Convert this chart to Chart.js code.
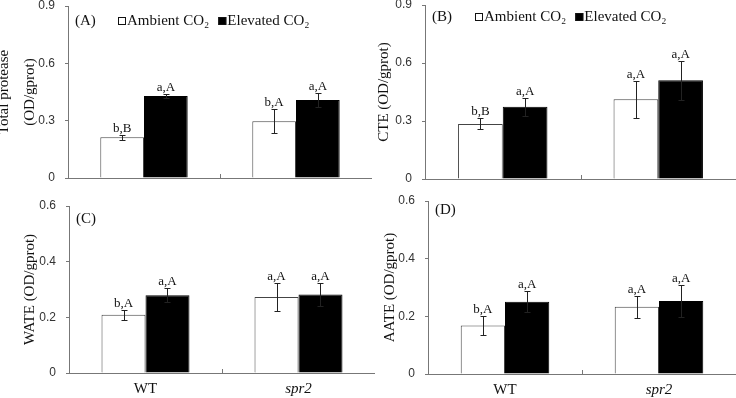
<!DOCTYPE html>
<html>
<head>
<meta charset="utf-8">
<script src="https://cdn.jsdelivr.net/npm/chart.js@4.4.0/dist/chart.umd.min.js"></script>
<style>
  html, body { margin: 0; padding: 0; background: #fff; }
  body { width: 736px; height: 398px; position: relative; overflow: hidden; }
  .panel { position: absolute; }
</style>
</head>
<body>
<div class="panel" style="left:-10px;top:0;width:382px;height:200px"><canvas id="chartA"></canvas></div>
<div class="panel" style="left:372px;top:0;width:364px;height:200px"><canvas id="chartB"></canvas></div>
<div class="panel" style="left:0;top:196px;width:375px;height:202px"><canvas id="chartC"></canvas></div>
<div class="panel" style="left:372px;top:192px;width:364px;height:206px"><canvas id="chartD"></canvas></div>
<script>
const categories = ['WT', 'spr2'];
const seriesNames = ['Ambient CO₂', 'Elevated CO₂'];

// (A) total protease
const totalAmbient = [0.213, 0.297];
const totalAmbientErr = [0.012, 0.062];
const totalElevated = [0.429, 0.408];
const totalElevatedErr = [0.010, 0.035];
const totalAmbientSig = ['b,B', 'b,A'];
const totalElevatedSig = ['a,A', 'a,A'];
const totalTicks = [0, 0.3, 0.6, 0.9];

// (B) CTE
const cteAmbient = [0.285, 0.412];
const cteAmbientErr = [0.028, 0.095];
const cteElevated = [0.374, 0.511];
const cteElevatedErr = [0.047, 0.100];
const cteAmbientSig = ['b,B', 'a,A'];
const cteElevatedSig = ['a,A', 'a,A'];
const cteTicks = [0, 0.3, 0.6, 0.9];

// (C) WATE
const wateAmbient = [0.209, 0.273];
const wateAmbientErr = [0.018, 0.052];
const wateElevated = [0.279, 0.282];
const wateElevatedErr = [0.025, 0.043];
const wateAmbientSig = ['b,A', 'a,A'];
const wateElevatedSig = ['a,A', 'a,A'];
const wateTicks = [0, 0.2, 0.4, 0.6];

// (D) AATE
const aateAmbient = [0.168, 0.233];
const aateAmbientErr = [0.033, 0.039];
const aateElevated = [0.251, 0.253];
const aateElevatedErr = [0.036, 0.054];
const aateAmbientSig = ['b,A', 'a,A'];
const aateElevatedSig = ['a,A', 'a,A'];
const aateTicks = [0, 0.2, 0.4, 0.6];

const SERIF = '"Liberation Serif", "Times New Roman", serif';

// error bars, letters, panel tag, legend
const panelDecor = {
  id: 'panelDecor',
  afterDatasetsDraw(chart, args, opts) {
    const { ctx, chartArea, scales: { x, y } } = chart;
    ctx.save();
    chart.data.datasets.forEach((ds, i) => {
      const meta = chart.getDatasetMeta(i);
      meta.data.forEach((bar, j) => {
        const v = ds.data[j], e = ds.errors[j];
        const bx = Math.round(bar.x) + 0.5;
        const top = Math.round(y.getPixelForValue(v + e)) + 0.5;
        const bot = Math.round(y.getPixelForValue(v - e)) + 0.5;
        ctx.strokeStyle = '#222';
        ctx.lineWidth = 1;
        ctx.beginPath();
        ctx.moveTo(bx, top); ctx.lineTo(bx, bot);
        ctx.moveTo(bx - 3, top); ctx.lineTo(bx + 3, top);
        ctx.moveTo(bx - 3, bot); ctx.lineTo(bx + 3, bot);
        ctx.stroke();
        ctx.fillStyle = '#111';
        ctx.font = '13px ' + SERIF;
        ctx.textAlign = 'center';
        ctx.textBaseline = 'alphabetic';
        ctx.fillText(ds.sig[j], bar.x, top - 4);
      });
    });

    // small inner tick between the two groups
    const mid = Math.round((x.getPixelForValue(0) + x.getPixelForValue(1)) / 2) + 0.5;
    ctx.strokeStyle = '#777';
    ctx.beginPath();
    ctx.moveTo(mid, chartArea.bottom);
    ctx.lineTo(mid, chartArea.bottom - 4);
    ctx.stroke();

    // panel tag
    ctx.fillStyle = '#111';
    ctx.font = '15px ' + SERIF;
    ctx.textAlign = 'left';
    ctx.textBaseline = 'middle';
    ctx.fillText(opts.tag, chartArea.left + 7, chartArea.top + opts.tagDy);

    if (opts.legend) {
      let lx = chartArea.left + opts.legendDx;
      const ly = chartArea.top + opts.tagDy;
      chart.data.datasets.forEach((ds, i) => {
        ctx.fillStyle = i === 0 ? '#fff' : '#000';
        ctx.fillRect(lx, ly - 4, 8, 8);
        ctx.strokeStyle = '#111';
        ctx.strokeRect(lx + 0.5, ly - 3.5, 7, 7);
        lx += 9;
        ctx.fillStyle = '#111';
        ctx.fillText(ds.label, lx, ly);
        lx += ctx.measureText(ds.label).width + 9;
      });
    }
    ctx.restore();
  }
};

function makeChart(id, cfg) {
  return new Chart(document.getElementById(id), {
    type: 'bar',
    data: {
      labels: categories,
      datasets: [
        { label: seriesNames[0], data: cfg.ambient, errors: cfg.ambientErr, sig: cfg.ambientSig,
          backgroundColor: '#fff', borderColor: '#444', borderWidth: 1 },
        { label: seriesNames[1], data: cfg.elevated, errors: cfg.elevatedErr, sig: cfg.elevatedSig,
          backgroundColor: '#000', borderColor: '#000', borderWidth: 1 }
      ]
    },
    options: {
      responsive: true,
      maintainAspectRatio: false,
      animation: false,
      devicePixelRatio: 1,
      datasets: { bar: { categoryPercentage: 0.575, barPercentage: 1 } },
      layout: { padding: { top: cfg.padTop, left: 0, right: 0, bottom: 0 } },
      plugins: {
        legend: { display: false },
        tooltip: { enabled: false },
        panelDecor: { tag: cfg.tag, tagDy: cfg.tagDy, legend: cfg.legend, legendDx: 50 }
      },
      scales: {
        x: {
          grid: { display: false, drawTicks: false },
          border: { color: '#777', width: 1 },
          ticks: {
            display: cfg.showX,
            padding: 7,
            color: '#111',
            font: c => ({ family: SERIF, size: 15, style: c.index === 1 ? 'italic' : 'normal' })
          },
          afterFit: s => { s.height = cfg.xHeight; s.paddingLeft = 0; s.paddingRight = 0; }
        },
        y: {
          min: cfg.ticks[0],
          max: cfg.ticks[cfg.ticks.length - 1],
          afterBuildTicks: s => { s.ticks = cfg.ticks.map(v => ({ value: v })); },
          grid: { drawOnChartArea: false, tickLength: 3, color: '#777' },
          border: { color: '#777', width: 1 },
          ticks: {
            padding: 10,
            color: '#333',
            font: { family: '"Liberation Sans", Arial, sans-serif', size: 12 },
            callback: v => +v.toFixed(1)
          },
          title: {
            display: true,
            text: cfg.title,
            color: '#111',
            font: { family: SERIF, size: 15, lineHeight: cfg.titleLH },
            padding: { top: cfg.titlePad, bottom: 0 }
          },
          afterFit: s => { s.width = cfg.yWidth; s.paddingTop = 0; s.paddingBottom = 0; }
        }
      }
    },
    plugins: [panelDecor]
  });
}

makeChart('chartA', {
  ambient: totalAmbient, ambientErr: totalAmbientErr, ambientSig: totalAmbientSig,
  elevated: totalElevated, elevatedErr: totalElevatedErr, elevatedSig: totalElevatedSig,
  ticks: totalTicks, title: ['Total protease', '(OD/gprot)'], titleLH: 1.75, titlePad: 1,
  yWidth: 78, padTop: 6, xHeight: 22, showX: false, tag: '(A)', tagDy: 15, legend: true
});
makeChart('chartB', {
  ambient: cteAmbient, ambientErr: cteAmbientErr, ambientSig: cteAmbientSig,
  elevated: cteElevated, elevatedErr: cteElevatedErr, elevatedSig: cteElevatedSig,
  ticks: cteTicks, title: 'CTE (OD/gprot)', titleLH: 1.2, titlePad: 3,
  yWidth: 53, padTop: 5, xHeight: 21, showX: false, tag: '(B)', tagDy: 12, legend: true
});
makeChart('chartC', {
  ambient: wateAmbient, ambientErr: wateAmbientErr, ambientSig: wateAmbientSig,
  elevated: wateElevated, elevatedErr: wateElevatedErr, elevatedSig: wateElevatedSig,
  ticks: wateTicks, title: 'WATE (OD/gprot)', titleLH: 1.2, titlePad: 21,
  yWidth: 69, padTop: 10, xHeight: 25, showX: true, tag: '(C)', tagDy: 13, legend: false
});
makeChart('chartD', {
  ambient: aateAmbient, ambientErr: aateAmbientErr, ambientSig: aateAmbientSig,
  elevated: aateElevated, elevatedErr: aateElevatedErr, elevatedSig: aateElevatedSig,
  ticks: aateTicks, title: 'AATE (OD/gprot)', titleLH: 1.2, titlePad: 9,
  yWidth: 56, padTop: 9, xHeight: 24, showX: true, tag: '(D)', tagDy: 9, legend: false
});
</script>
</body>
</html>
